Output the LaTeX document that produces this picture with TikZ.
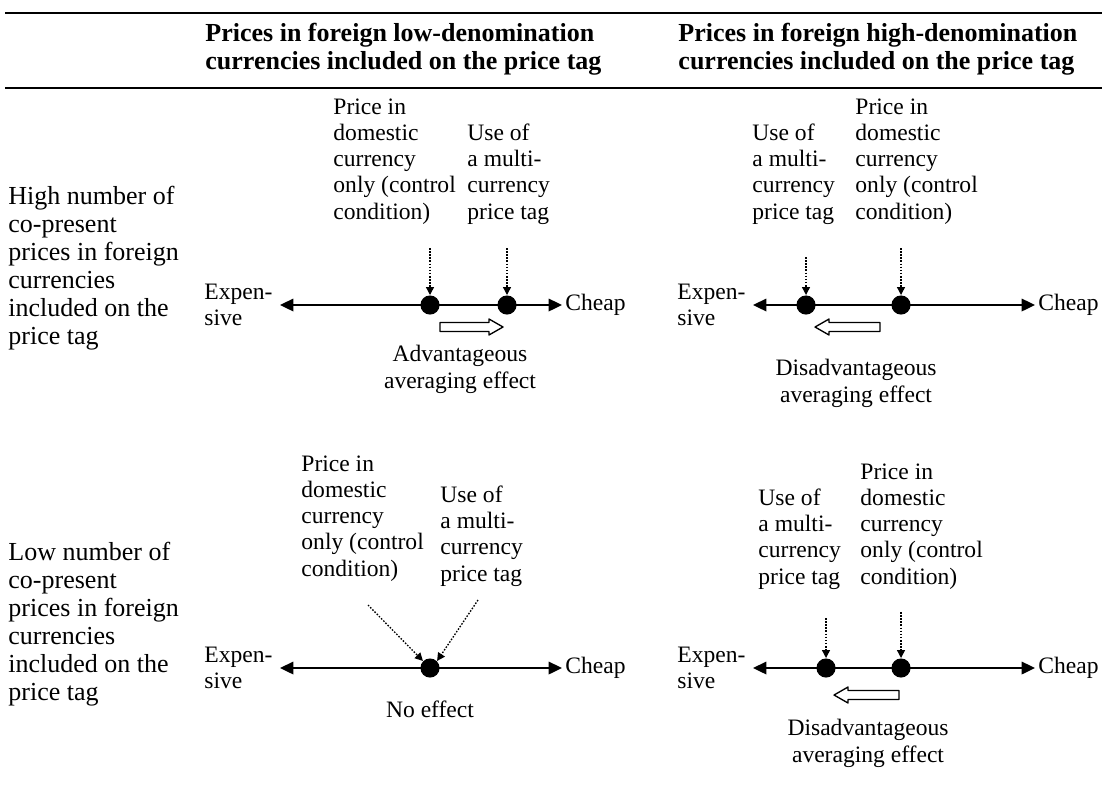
\documentclass[tikz,border=0pt]{standalone}
\usepackage{fontspec}
\setmainfont{Liberation Serif}
\usetikzlibrary{arrows.meta}
\begin{document}
\begin{tikzpicture}[x=0.45pt, y=-0.45pt, font=\fontsize{10.6}{11.8}\selectfont, line join=round,
		txt/.style={inner sep=0, align=left, anchor=base west},
		rowtxt/.style={txt, font=\fontsize{11.7}{12.6}\selectfont},
		headtxt/.style={txt, font=\fontsize{11.7}{12.6}\selectfont\bfseries},
		dot/.style={circle, fill, inner sep=0, minimum size=8.6pt},
		scale line/.style={line width=0.9pt, {Triangle[length=6pt,width=5.6pt]}-{Triangle[length=6pt,width=5.6pt]}},
		pointer/.style={dash pattern=on 0.7pt off 0.7pt, line width=0.6pt, -{Triangle[length=3.6pt,width=3.6pt]}},
		hollow/.style={line width=0.6pt, fill=white},
		effect/.style={inner sep=0, align=center, anchor=base}]
	\useasboundingbox (0,0) rectangle (1102,796);
	\def\ya{305} \def\yb{668}
	% table rules and headings
	\draw[line width=1.3pt] (5,13) -- (1102,13);
	\draw[line width=1.3pt] (5,88) -- (1102,88);
	\node[headtxt] (headLo) at (205,69) {Prices in foreign low-denomination\\currencies included on the price tag};
	\node[headtxt] (headHi) at (678,69) {Prices in foreign high-denomination\\currencies included on the price tag};
	\node[rowtxt] (rowMany) at (8,344) {High number of\\co-present\\prices in foreign\\currencies\\included on the\\price tag};
	\node[rowtxt] (rowFew) at (8,700) {Low number of\\co-present\\prices in foreign\\currencies\\included on the\\price tag};
	% high number, low-denomination
	\node[txt] (manyLoCtrlTxt) at (333,219) {Price in\\domestic\\currency\\only (control\\condition)};
	\node[txt] (manyLoMultiTxt) at (467,219) {Use of\\a multi-\\currency\\price tag};
	\coordinate (manyLoL) at (280,\ya); \coordinate (manyLoR) at (562,\ya);
	\draw[scale line] (manyLoL) -- (manyLoR);
	\node[anchor=west, inner sep=0, align=left] (manyLoExp) at (204,\ya) {Expen-\\sive};
	\node[anchor=west, inner sep=0] (manyLoCheap) at (565,\ya) {Cheap};
	\node[dot] (manyLoCtrl) at (430,\ya) {};
	\node[dot] (manyLoMulti) at (507,\ya) {};
	\coordinate (manyLoCtrlTop) at (430,248); \coordinate (manyLoMultiTop) at (507,248);
	\draw[pointer] (manyLoCtrlTop) -- (manyLoCtrl);
	\draw[pointer] (manyLoMultiTop) -- (manyLoMulti);
	\draw[hollow] (440,322.5) -- ++(49,0) -- ++(0,-3.5) -- ++(14,8) -- ++(-14,8) -- ++(0,-3.5) -- ++(-49,0) -- cycle;
	\node[effect] (manyLoEff) at (460,388) {Advantageous\\averaging effect};
	% high number, high-denomination
	\node[txt] (manyHiCtrlTxt) at (855,219) {Price in\\domestic\\currency\\only (control\\condition)};
	\node[txt] (manyHiMultiTxt) at (752,219) {Use of\\a multi-\\currency\\price tag};
	\coordinate (manyHiL) at (753,\ya); \coordinate (manyHiR) at (1035,\ya);
	\draw[scale line] (manyHiL) -- (manyHiR);
	\node[anchor=west, inner sep=0, align=left] (manyHiExp) at (677,\ya) {Expen-\\sive};
	\node[anchor=west, inner sep=0] (manyHiCheap) at (1038,\ya) {Cheap};
	\node[dot] (manyHiMulti) at (806,\ya) {};
	\node[dot] (manyHiCtrl) at (901,\ya) {};
	\coordinate (manyHiMultiTop) at (806,257); \coordinate (manyHiCtrlTop) at (901,248);
	\draw[pointer] (manyHiMultiTop) -- (manyHiMulti);
	\draw[pointer] (manyHiCtrlTop) -- (manyHiCtrl);
	\draw[hollow] (880,322.5) -- ++(-51,0) -- ++(0,-3.5) -- ++(-14,8) -- ++(14,8) -- ++(0,-3.5) -- ++(51,0) -- cycle;
	\node[effect] (manyHiEff) at (856,402) {Disadvantageous\\averaging effect};
	% low number, low-denomination
	\node[txt] (fewLoCtrlTxt) at (301,576) {Price in\\domestic\\currency\\only (control\\condition)};
	\node[txt] (fewLoMultiTxt) at (440,581) {Use of\\a multi-\\currency\\price tag};
	\coordinate (fewLoL) at (280,\yb); \coordinate (fewLoR) at (562,\yb);
	\draw[scale line] (fewLoL) -- (fewLoR);
	\node[anchor=west, inner sep=0, align=left] (fewLoExp) at (204,\yb) {Expen-\\sive};
	\node[anchor=west, inner sep=0] (fewLoCheap) at (565,\yb) {Cheap};
	\node[dot] (fewLoDot) at (430,\yb) {};
	\coordinate (fewLoCtrlTop) at (368,605); \coordinate (fewLoMultiTop) at (478,600);
	\draw[pointer] (fewLoCtrlTop) -- (fewLoDot.north west);
	\draw[pointer] (fewLoMultiTop) -- (fewLoDot.north east);
	\node[effect] (fewLoEff) at (430,717) {No effect};
	% low number, high-denomination
	\node[txt] (fewHiCtrlTxt) at (860,584) {Price in\\domestic\\currency\\only (control\\condition)};
	\node[txt] (fewHiMultiTxt) at (758,584) {Use of\\a multi-\\currency\\price tag};
	\coordinate (fewHiL) at (753,\yb); \coordinate (fewHiR) at (1035,\yb);
	\draw[scale line] (fewHiL) -- (fewHiR);
	\node[anchor=west, inner sep=0, align=left] (fewHiExp) at (677,\yb) {Expen-\\sive};
	\node[anchor=west, inner sep=0] (fewHiCheap) at (1038,\yb) {Cheap};
	\node[dot] (fewHiMulti) at (826,\yb) {};
	\node[dot] (fewHiCtrl) at (901,\yb) {};
	\coordinate (fewHiMultiTop) at (826,618); \coordinate (fewHiCtrlTop) at (901,612);
	\draw[pointer] (fewHiMultiTop) -- (fewHiMulti);
	\draw[pointer] (fewHiCtrlTop) -- (fewHiCtrl);
	\draw[hollow] (899,690.5) -- ++(-51,0) -- ++(0,-3.5) -- ++(-14,8) -- ++(14,8) -- ++(0,-3.5) -- ++(51,0) -- cycle;
	\node[effect] (fewHiEff) at (868,762) {Disadvantageous\\averaging effect};
\end{tikzpicture}
\end{document}
